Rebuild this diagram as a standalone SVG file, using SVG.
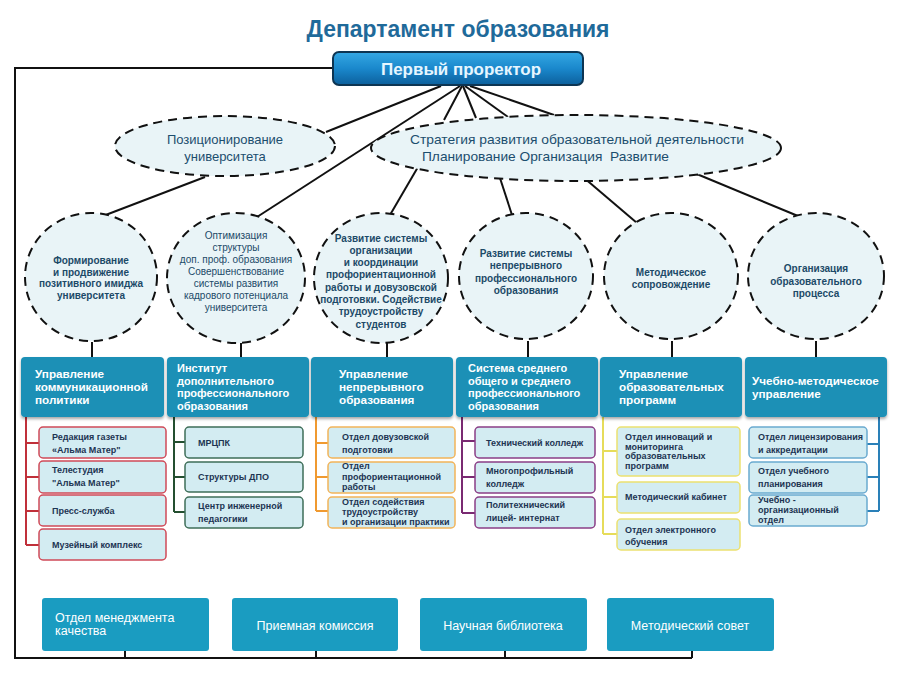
<svg xmlns="http://www.w3.org/2000/svg" width="900" height="675" viewBox="0 0 900 675">
<defs>
<linearGradient id="gTop" x1="0" y1="0" x2="0" y2="1">
<stop offset="0" stop-color="#35a8e4"/>
<stop offset="0.5" stop-color="#1a88cc"/>
<stop offset="1" stop-color="#0c5f9c"/>
</linearGradient>
<filter id="sh" x="-5%" y="-5%" width="110%" height="125%">
<feGaussianBlur in="SourceAlpha" stdDeviation="1.5"/>
<feOffset dx="0" dy="2" result="b"/>
<feComponentTransfer><feFuncA type="linear" slope="0.35"/></feComponentTransfer>
<feMerge><feMergeNode/><feMergeNode in="SourceGraphic"/></feMerge>
</filter>
</defs>
<style>
text{font-family:"Liberation Sans","DejaVu Sans",sans-serif}
.title{font-size:24px;font-weight:bold;fill:#1f6a9a}
.top{font-size:17px;font-weight:bold;fill:#e6f6ff}
.ell{fill:#e9f4f7;stroke:#111;stroke-width:2;stroke-dasharray:9 6}
.etx{font-size:13px;fill:#1c4e6e;text-anchor:middle}
.ctx{font-size:10px;font-weight:bold;fill:#1c4a68;text-anchor:middle}
.ctn{font-size:10px;fill:#1c4a68;text-anchor:middle}
.hdr{fill:#1a90b6}
.htx{font-size:11.7px;font-weight:bold;fill:#fff}
.htx4{font-size:11px;font-weight:bold;fill:#fff}
.sub{fill:#d3ecf2;stroke-width:1.5}
.stx{font-size:9px;font-weight:bold;fill:#1d3452}
.bot{fill:#1a9cc1}
.btx{font-size:12.5px;fill:#fff}
.ln{stroke:#111;stroke-width:2;fill:none}
.c1{stroke:#c0303a;stroke-width:2;fill:none}
.c2{stroke:#244f30;stroke-width:2;fill:none}
.c3{stroke:#f09a30;stroke-width:2;fill:none}
.c4{stroke:#7a2a72;stroke-width:2;fill:none}
.c5{stroke:#e6dc5a;stroke-width:2;fill:none}
.c6{stroke:#2a80b8;stroke-width:2;fill:none}
</style>
<rect width="900" height="675" fill="#fff"/>

<text class="title" x="458" y="37" text-anchor="middle" textLength="303" lengthAdjust="spacingAndGlyphs">Департамент образования</text>

<g id="connectors">
<polyline class="ln" points="333,68 15,68 15,658 692,658"/>
<line class="ln" x1="125" y1="651" x2="125" y2="658"/>
<line class="ln" x1="316" y1="651" x2="316" y2="658"/>
<line class="ln" x1="505" y1="651" x2="505" y2="658"/>
<line class="ln" x1="692" y1="651" x2="692" y2="658"/>
<line class="ln" x1="441" y1="86" x2="326" y2="132"/>
<line class="ln" x1="460" y1="86" x2="257" y2="217"/>
<line class="ln" x1="462" y1="86" x2="444" y2="120"/>
<line class="ln" x1="463" y1="86" x2="476" y2="118"/>
<line class="ln" x1="465" y1="86" x2="508" y2="117"/>
<line class="ln" x1="470" y1="86" x2="554" y2="115"/>
<line class="ln" x1="205" y1="177" x2="103" y2="216"/>
<line class="ln" x1="418" y1="167" x2="390" y2="215"/>
<line class="ln" x1="499" y1="175" x2="512" y2="215"/>
<line class="ln" x1="583" y1="177" x2="637" y2="223"/>
<line class="ln" x1="692" y1="172" x2="798" y2="216"/>
<line class="ln" x1="92" y1="342" x2="92" y2="357"/>
<line class="ln" x1="241" y1="343" x2="241" y2="357"/>
<line class="ln" x1="387" y1="343" x2="387" y2="357"/>
<line class="ln" x1="528" y1="341" x2="528" y2="357"/>
<line class="ln" x1="672" y1="341" x2="672" y2="357"/>
<line class="ln" x1="816" y1="341" x2="816" y2="357"/>
<path class="c1" d="M26,417 V545 M26,443 H39 M26,477 H39 M26,511 H39 M26,545 H39"/>
<path class="c2" d="M174,417 V512 M174,442 H185 M174,477 H185 M174,512 H185"/>
<path class="c3" d="M316,417 V511 M316,443 H328 M316,477 H328 M316,511 H328"/>
<path class="c4" d="M462,417 V513 M462,441 H475 M462,477 H475 M462,513 H475"/>
<path class="c5" d="M603,417 V534 M603,451 H617 M603,497 H617 M603,534 H617"/>
<path class="c6" d="M879,417 V511 M879,444 H867 M879,477 H867 M879,511 H867"/>
</g>

<g id="n-top">
<rect x="333" y="52" width="250" height="33" rx="6" fill="url(#gTop)" stroke="#0d3553" stroke-width="2"/>
<text class="top" x="461" y="75" text-anchor="middle" textLength="160" lengthAdjust="spacingAndGlyphs">Первый проректор</text>
</g>

<g id="n-e1">
<ellipse class="ell" cx="225" cy="146" rx="110" ry="30"/>
<text class="etx" x="225" y="143.5">Позиционирование</text>
<text class="etx" x="225" y="160.5">университета</text>
</g>
<g id="n-e2">
<ellipse class="ell" cx="576" cy="148" rx="205" ry="33"/>
<text class="etx" x="577" y="143.5" textLength="334" lengthAdjust="spacingAndGlyphs">Стратегия развития образовательной деятельности</text>
<text class="etx" x="422" y="160.5" style="text-anchor:start" xml:space="preserve" textLength="247" lengthAdjust="spacingAndGlyphs">Планирование Организация  Развитие</text>
</g>

<g id="n-c1">
<ellipse class="ell" cx="91" cy="277" rx="66" ry="64"/>
<text class="ctx" x="91" y="264">Формирование</text>
<text class="ctx" x="91" y="275.5">и продвижение</text>
<text class="ctx" x="91" y="287">позитивного имиджа</text>
<text class="ctx" x="91" y="298.5">университета</text>
</g>
<g id="n-c2">
<ellipse class="ell" cx="236" cy="278" rx="69" ry="65"/>
<text class="ctn" x="236" y="239">Оптимизация</text>
<text class="ctn" x="236" y="251">структуры</text>
<text class="ctn" x="236" y="263">доп. проф. образования</text>
<text class="ctn" x="236" y="275">Совершенствование</text>
<text class="ctn" x="236" y="287">системы развития</text>
<text class="ctn" x="236" y="299">кадрового потенциала</text>
<text class="ctn" x="236" y="311">университета</text>
</g>
<g id="n-c3">
<ellipse class="ell" cx="381" cy="278" rx="67" ry="65"/>
<text class="ctx" x="381" y="241.5">Развитие системы</text>
<text class="ctx" x="381" y="253.8">организации</text>
<text class="ctx" x="381" y="266.1">и координации</text>
<text class="ctx" x="381" y="278.4">профориентационной</text>
<text class="ctx" x="381" y="290.7">работы и довузовской</text>
<text class="ctx" x="381" y="303">подготовки. Содействие</text>
<text class="ctx" x="381" y="315.3">трудоустройству</text>
<text class="ctx" x="381" y="327.6">студентов</text>
</g>
<g id="n-c4">
<ellipse class="ell" cx="526" cy="276" rx="67" ry="63"/>
<text class="ctx" x="526" y="257">Развитие системы</text>
<text class="ctx" x="526" y="269.3">непрерывного</text>
<text class="ctx" x="526" y="281.6">профессионального</text>
<text class="ctx" x="526" y="293.9">образования</text>
</g>
<g id="n-c5">
<ellipse class="ell" cx="671" cy="276" rx="67" ry="63"/>
<text class="ctx" x="671" y="276">Методическое</text>
<text class="ctx" x="671" y="288">сопровождение</text>
</g>
<g id="n-c6">
<ellipse class="ell" cx="816" cy="276" rx="68" ry="63"/>
<text class="ctx" x="816" y="272">Организация</text>
<text class="ctx" x="816" y="284.5">образовательного</text>
<text class="ctx" x="816" y="297">процесса</text>
</g>

<g id="n-h1">
<rect class="hdr" x="21" y="357" width="143" height="60" rx="4" filter="url(#sh)"/>
<text class="htx" x="35" y="378">Управление</text>
<text class="htx" x="35" y="391">коммуникационной</text>
<text class="htx" x="35" y="404">политики</text>
</g>
<g id="n-h2">
<rect class="hdr" x="167" y="357" width="142" height="60" rx="4" filter="url(#sh)"/>
<text class="htx4" x="177" y="372">Институт</text>
<text class="htx4" x="177" y="384.6">дополнительного</text>
<text class="htx4" x="177" y="397.2">профессионального</text>
<text class="htx4" x="177" y="409.8">образования</text>
</g>
<g id="n-h3">
<rect class="hdr" x="311" y="357" width="142" height="60" rx="4" filter="url(#sh)"/>
<text class="htx" x="339" y="378">Управление</text>
<text class="htx" x="339" y="391">непрерывного</text>
<text class="htx" x="339" y="404">образования</text>
</g>
<g id="n-h4">
<rect class="hdr" x="456" y="357" width="142" height="60" rx="4" filter="url(#sh)"/>
<text class="htx4" x="468" y="372">Система среднего</text>
<text class="htx4" x="468" y="384.6">общего и среднего</text>
<text class="htx4" x="468" y="397.2">профессионального</text>
<text class="htx4" x="468" y="409.8">образования</text>
</g>
<g id="n-h5">
<rect class="hdr" x="600" y="357" width="142" height="60" rx="4" filter="url(#sh)"/>
<text class="htx" x="619" y="378">Управление</text>
<text class="htx" x="619" y="391">образовательных</text>
<text class="htx" x="619" y="404">программ</text>
</g>
<g id="n-h6">
<rect class="hdr" x="745" y="357" width="142" height="60" rx="4" filter="url(#sh)"/>
<text class="htx" x="752" y="385">Учебно-методическое</text>
<text class="htx" x="752" y="398">управление</text>
</g>

<g id="n-s1a"><rect class="sub" x="39" y="427" width="127" height="31" rx="4" stroke="#d04a58"/>
<text class="stx" x="52" y="440">Редакция газеты</text><text class="stx" x="52" y="453">«Альма Матер"</text></g>
<g id="n-s1b"><rect class="sub" x="39" y="461" width="127" height="32" rx="4" stroke="#d04a58"/>
<text class="stx" x="52" y="473">Телестудия</text><text class="stx" x="52" y="486">"Альма Матер"</text></g>
<g id="n-s1c"><rect class="sub" x="39" y="495" width="127" height="31" rx="4" stroke="#d04a58"/>
<text class="stx" x="52" y="514">Пресс-служба</text></g>
<g id="n-s1d"><rect class="sub" x="39" y="529" width="127" height="31" rx="4" stroke="#d04a58"/>
<text class="stx" x="52" y="548">Музейный комплекс</text></g>

<g id="n-s2a"><rect class="sub" x="185" y="427" width="118" height="31" rx="4" stroke="#3e6e58"/>
<text class="stx" x="198" y="446">МРЦПК</text></g>
<g id="n-s2b"><rect class="sub" x="185" y="462" width="118" height="30" rx="4" stroke="#3e6e58"/>
<text class="stx" x="198" y="480">Структуры ДПО</text></g>
<g id="n-s2c"><rect class="sub" x="185" y="497" width="118" height="31" rx="4" stroke="#3e6e58"/>
<text class="stx" x="198" y="509">Центр инженерной</text><text class="stx" x="198" y="522">педагогики</text></g>

<g id="n-s3a"><rect class="sub" x="328" y="427" width="127" height="31" rx="4" stroke="#f2b45a"/>
<text class="stx" x="342" y="440">Отдел довузовской</text><text class="stx" x="342" y="453">подготовки</text></g>
<g id="n-s3b"><rect class="sub" x="328" y="462" width="127" height="31" rx="4" stroke="#f2b45a"/>
<text class="stx" x="342" y="469">Отдел</text><text class="stx" x="342" y="479.5">профориентационной</text><text class="stx" x="342" y="490">работы</text></g>
<g id="n-s3c"><rect class="sub" x="328" y="497" width="127" height="31" rx="4" stroke="#f2b45a"/>
<text class="stx" x="342" y="505">Отдел содействия</text><text class="stx" x="342" y="515">трудоустройству</text><text class="stx" x="342" y="525">и организации практики</text></g>

<g id="n-s4a"><rect class="sub" x="475" y="427" width="120" height="31" rx="4" stroke="#8a3e86"/>
<text class="stx" x="486" y="446">Технический колледж</text></g>
<g id="n-s4b"><rect class="sub" x="475" y="462" width="120" height="31" rx="4" stroke="#8a3e86"/>
<text class="stx" x="486" y="474">Многопрофильный</text><text class="stx" x="486" y="487">колледж</text></g>
<g id="n-s4c"><rect class="sub" x="475" y="497" width="120" height="31" rx="4" stroke="#8a3e86"/>
<text class="stx" x="486" y="508">Политехнический</text><text class="stx" x="486" y="521">лицей- интернат</text></g>

<g id="n-s5a"><rect class="sub" x="617" y="427" width="123" height="49" rx="4" stroke="#ece170"/>
<text class="stx" x="625" y="440">Отдел инноваций и</text><text class="stx" x="625" y="449.5">мониторинга</text><text class="stx" x="625" y="459">образовательных</text><text class="stx" x="625" y="468.5">программ</text></g>
<g id="n-s5b"><rect class="sub" x="617" y="482" width="123" height="31" rx="4" stroke="#ece170"/>
<text class="stx" x="625" y="500">Методический кабинет</text></g>
<g id="n-s5c"><rect class="sub" x="617" y="519" width="123" height="31" rx="4" stroke="#ece170"/>
<text class="stx" x="625" y="533">Отдел электронного</text><text class="stx" x="625" y="545">обучения</text></g>

<g id="n-s6a"><rect class="sub" x="749" y="427" width="118" height="31" rx="4" stroke="#6aaad0"/>
<text class="stx" x="758" y="440">Отдел лицензирования</text><text class="stx" x="758" y="453">и аккредитации</text></g>
<g id="n-s6b"><rect class="sub" x="749" y="462" width="118" height="31" rx="4" stroke="#6aaad0"/>
<text class="stx" x="758" y="474">Отдел учебного</text><text class="stx" x="758" y="487">планирования</text></g>
<g id="n-s6c"><rect class="sub" x="749" y="495" width="118" height="31" rx="4" stroke="#6aaad0"/>
<text class="stx" x="758" y="503">Учебно -</text><text class="stx" x="758" y="513">организационный</text><text class="stx" x="758" y="523">отдел</text></g>

<g id="n-b1"><rect class="bot" x="42" y="598" width="167" height="53" rx="3"/>
<text class="btx" x="55" y="622">Отдел менеджмента</text><text class="btx" x="55" y="635">качества</text></g>
<g id="n-b2"><rect class="bot" x="232" y="598" width="166" height="53" rx="3"/>
<text class="btx" x="315" y="630" text-anchor="middle">Приемная комиссия</text></g>
<g id="n-b3"><rect class="bot" x="420" y="598" width="167" height="53" rx="3"/>
<text class="btx" x="503" y="630" text-anchor="middle">Научная библиотека</text></g>
<g id="n-b4"><rect class="bot" x="607" y="598" width="167" height="53" rx="3"/>
<text class="btx" x="690" y="630" text-anchor="middle">Методический совет</text></g>
</svg>
